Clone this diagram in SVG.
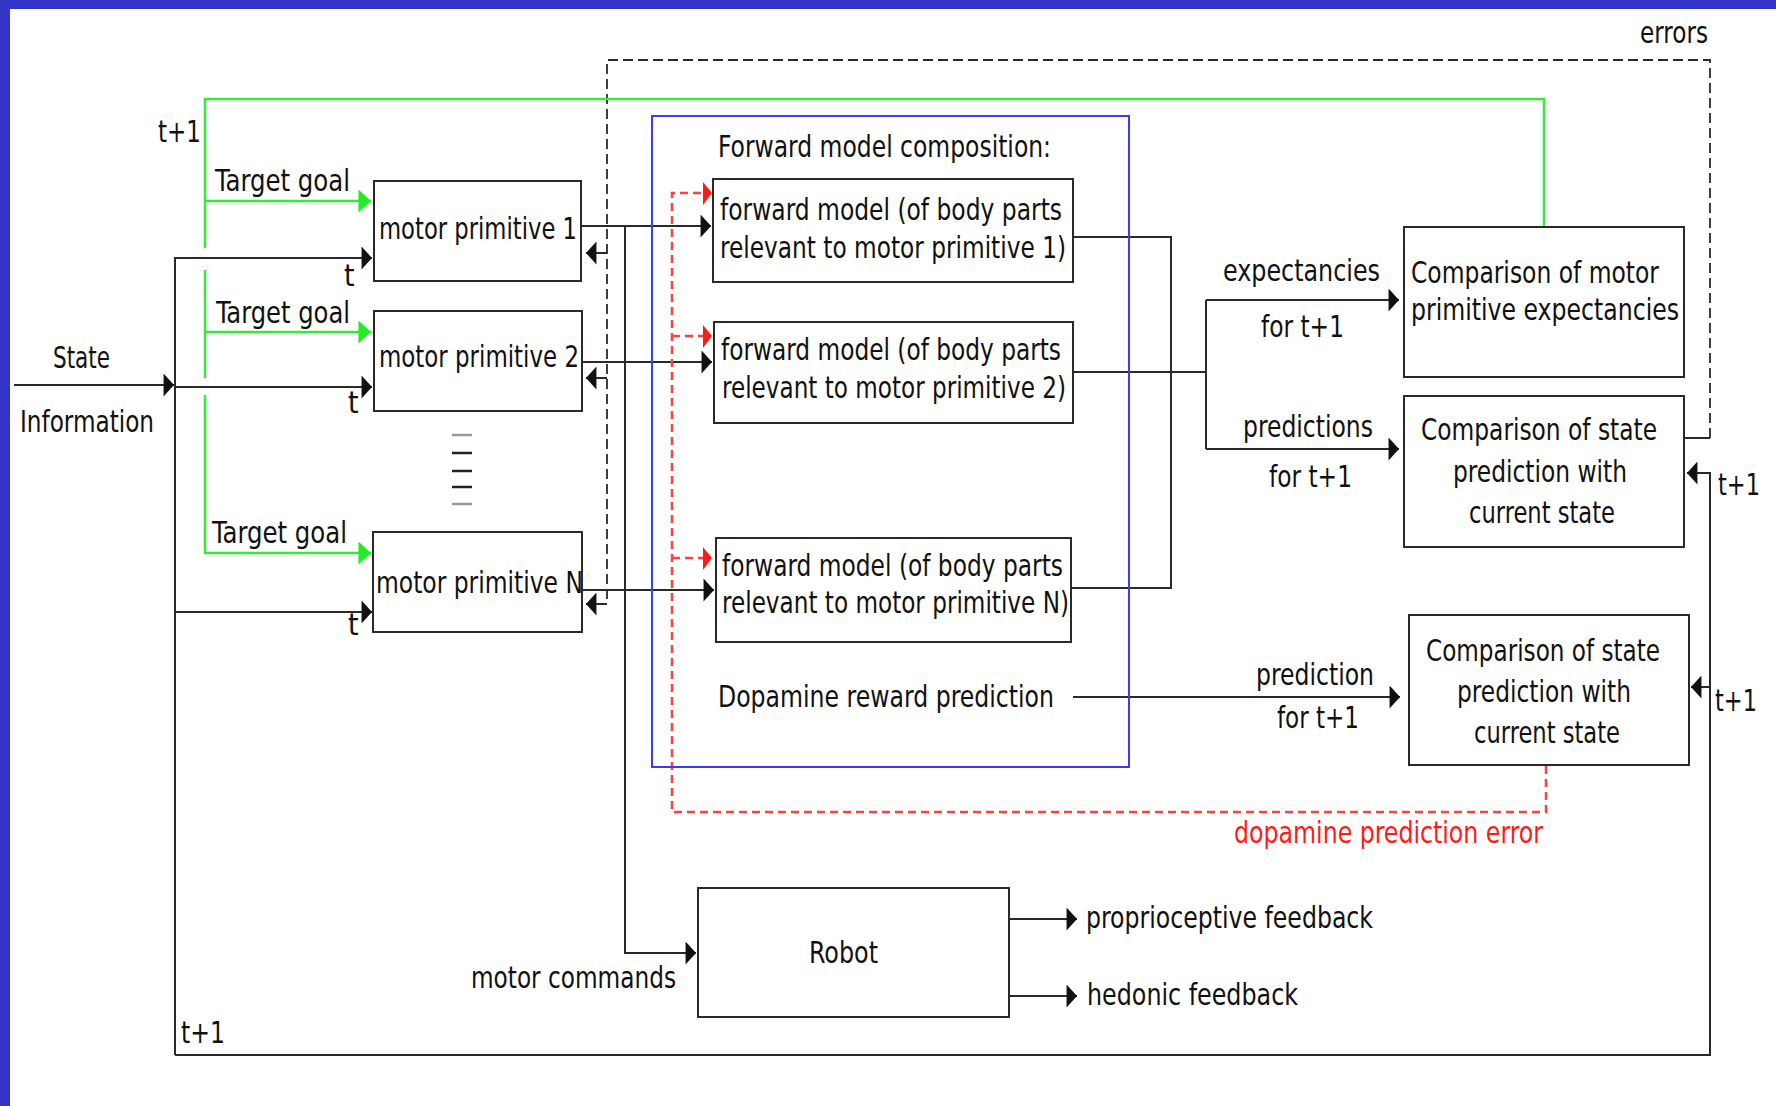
<svg xmlns="http://www.w3.org/2000/svg" width="1776" height="1106" viewBox="0 0 1776 1106">
<style>
  text { font-family: "DejaVu Sans Condensed", "DejaVu Sans", "Liberation Sans", sans-serif; font-size: 30px; fill: #111; }
  .box { fill: #fff; stroke: #2a2a2a; stroke-width: 2; }
  .ln { fill: none; stroke: #2a2a2a; stroke-width: 2; }
  .gr { fill: none; stroke: #33ec33; stroke-width: 2.5; }
  .rd { fill: none; stroke: #ff4040; stroke-width: 2.5; stroke-dasharray: 8 5; }
  .dk { fill: none; stroke: #2a2a2a; stroke-width: 1.8; stroke-dasharray: 10 5; }
  .red { fill: #ff1a1a; }
</style>
<defs>
  <marker id="ab" markerUnits="userSpaceOnUse" markerWidth="11" markerHeight="23" viewBox="0 0 10 22" refX="10" refY="11" orient="auto">
    <path d="M0,0 L10,11 L0,22 Z" fill="#111"/>
  </marker>
  <marker id="ag" markerUnits="userSpaceOnUse" markerWidth="13" markerHeight="23" viewBox="0 0 12 22" refX="12" refY="11" orient="auto">
    <path d="M0,0 L12,11 L0,22 Z" fill="#22ee22"/>
  </marker>
</defs>
<rect x="0" y="0" width="1776" height="1106" fill="#ffffff"/>
<rect x="0" y="0" width="1776" height="9" fill="#3434c8"/>
<rect x="0" y="0" width="10" height="1106" fill="#3434c8"/>

<g id="connectors">
  <!-- errors dashed feedback -->
  <path class="ln" d="M1684,438 H1710"/>
  <path class="dk" d="M1710,438 V60 H607 V604"/>
  <path class="ln" d="M607,253 H586" marker-end="url(#ab)"/>
  <path class="ln" d="M607,378 H586" marker-end="url(#ab)"/>
  <path class="ln" d="M607,604 H586" marker-end="url(#ab)"/>
  <!-- green goal lines -->
  <path class="gr" d="M205,248 V99 H1544 V227"/>
  <path class="gr" d="M205,270 V378"/>
  <path class="gr" d="M205,395 V553 H371" marker-end="url(#ag)"/>
  <path class="gr" d="M205,201 H371" marker-end="url(#ag)"/>
  <path class="gr" d="M205,332 H371" marker-end="url(#ag)"/>
  <!-- state information and t inputs -->
  <path class="ln" d="M14,385 H174" marker-end="url(#ab)"/>
  <path class="ln" d="M175,1055 V258 H372" marker-end="url(#ab)"/>
  <path class="ln" d="M175,387 H372" marker-end="url(#ab)"/>
  <path class="ln" d="M175,612 H372" marker-end="url(#ab)"/>
  <!-- outer t+1 loop -->
  <path class="ln" d="M175,1055 H1710 V473 H1687" marker-end="url(#ab)"/>
  <path class="ln" d="M1710,687 H1691" marker-end="url(#ab)"/>
  <!-- motor primitive outputs -->
  <path class="ln" d="M582,226 H711" marker-end="url(#ab)"/>
  <path class="ln" d="M583,362 H712" marker-end="url(#ab)"/>
  <path class="ln" d="M583,590 H714" marker-end="url(#ab)"/>
  <path class="ln" d="M625,226 V953 H696" marker-end="url(#ab)"/>
  <!-- forward model outputs -->
  <path class="ln" d="M1073,237 H1171 V588 H1071"/>
  <path class="ln" d="M1073,372 H1206"/>
  <path class="ln" d="M1206,300 V449"/>
  <path class="ln" d="M1206,300 H1399" marker-end="url(#ab)"/>
  <path class="ln" d="M1206,449 H1399" marker-end="url(#ab)"/>
  <path class="ln" d="M1073,697 H1400" marker-end="url(#ab)"/>
  <!-- dopamine prediction error -->
  <path class="rd" d="M1546,766 V812 H672 V193 H703"/>
  <path class="rd" d="M672,336 H703"/>
  <path class="rd" d="M672,558 H703"/>
  <path d="M703,182 L712,193 L703,205 Z" class="red"/>
  <path d="M703,325 L712,336 L703,348 Z" class="red"/>
  <path d="M703,547 L712,558 L703,570 Z" class="red"/>
  <!-- robot outputs -->
  <path class="ln" d="M1009,919 H1077" marker-end="url(#ab)"/>
  <path class="ln" d="M1009,996 H1077" marker-end="url(#ab)"/>
  <!-- vertical ellipsis -->
  <g stroke-width="2.5">
    <line x1="452" y1="435" x2="472" y2="435" stroke="#999"/>
    <line x1="452" y1="453" x2="472" y2="453" stroke="#222"/>
    <line x1="452" y1="471" x2="472" y2="471" stroke="#222"/>
    <line x1="452" y1="487" x2="472" y2="487" stroke="#222"/>
    <line x1="452" y1="504" x2="472" y2="504" stroke="#999"/>
  </g>
</g>

<g id="labels">
  <text x="1640" y="43" textLength="68" lengthAdjust="spacingAndGlyphs">errors</text>
  <text x="158" y="142" textLength="43" lengthAdjust="spacingAndGlyphs">t+1</text>
  <text x="215" y="191" textLength="135" lengthAdjust="spacingAndGlyphs">Target goal</text>
  <text x="344" y="286">t</text>
  <text x="216" y="323" textLength="134" lengthAdjust="spacingAndGlyphs">Target goal</text>
  <text x="53" y="368" textLength="57" lengthAdjust="spacingAndGlyphs">State</text>
  <text x="20" y="432" textLength="134" lengthAdjust="spacingAndGlyphs">Information</text>
  <text x="348" y="413">t</text>
  <text x="212" y="543" textLength="135" lengthAdjust="spacingAndGlyphs">Target goal</text>
  <text x="348" y="635">t</text>
  <text x="1223" y="281" textLength="157" lengthAdjust="spacingAndGlyphs">expectancies</text>
  <text x="1261" y="337" textLength="83" lengthAdjust="spacingAndGlyphs">for t+1</text>
  <text x="1243" y="437" textLength="130" lengthAdjust="spacingAndGlyphs">predictions</text>
  <text x="1269" y="487" textLength="83" lengthAdjust="spacingAndGlyphs">for t+1</text>
  <text x="1718" y="495" textLength="42" lengthAdjust="spacingAndGlyphs">t+1</text>
  <text x="1715" y="711" textLength="42" lengthAdjust="spacingAndGlyphs">t+1</text>
  <text x="1256" y="685" textLength="118" lengthAdjust="spacingAndGlyphs">prediction</text>
  <text x="1277" y="728" textLength="82" lengthAdjust="spacingAndGlyphs">for t+1</text>
  <text x="1234" y="843" textLength="309" lengthAdjust="spacingAndGlyphs" style="fill:#ff1a1a">dopamine prediction error</text>
  <text x="1086" y="928" textLength="287" lengthAdjust="spacingAndGlyphs">proprioceptive feedback</text>
  <text x="1087" y="1005" textLength="211" lengthAdjust="spacingAndGlyphs">hedonic feedback</text>
  <text x="471" y="988" textLength="205" lengthAdjust="spacingAndGlyphs">motor commands</text>
  <text x="181" y="1043" textLength="44" lengthAdjust="spacingAndGlyphs">t+1</text>
</g>

<g id="forward-model-composition">
  <rect x="652" y="116" width="477" height="651" fill="none" stroke="#3a3aff" stroke-width="2"/>
  <text x="718" y="157" textLength="333" lengthAdjust="spacingAndGlyphs">Forward model composition:</text>
</g>

<g id="motor-primitive-1">
  <rect class="box" x="374" y="181" width="207" height="100"/>
  <text x="379" y="239" textLength="198" lengthAdjust="spacingAndGlyphs">motor primitive 1</text>
</g>
<g id="motor-primitive-2">
  <rect class="box" x="374" y="311" width="208" height="100"/>
  <text x="379" y="367" textLength="200" lengthAdjust="spacingAndGlyphs">motor primitive 2</text>
</g>
<g id="motor-primitive-N">
  <rect class="box" x="373" y="532" width="209" height="100"/>
  <text x="376" y="593" textLength="207" lengthAdjust="spacingAndGlyphs">motor primitive N</text>
</g>

<g id="forward-model-1">
  <rect class="box" x="713" y="179" width="360" height="103"/>
  <text x="720" y="220" textLength="342" lengthAdjust="spacingAndGlyphs">forward model (of body parts</text>
  <text x="720" y="258" textLength="346" lengthAdjust="spacingAndGlyphs">relevant to motor primitive 1)</text>
</g>
<g id="forward-model-2">
  <rect class="box" x="714" y="322" width="359" height="101"/>
  <text x="721" y="360" textLength="340" lengthAdjust="spacingAndGlyphs">forward model (of body parts</text>
  <text x="722" y="398" textLength="344" lengthAdjust="spacingAndGlyphs">relevant to motor primitive 2)</text>
</g>
<g id="forward-model-N">
  <rect class="box" x="716" y="538" width="355" height="104"/>
  <text x="722" y="576" textLength="341" lengthAdjust="spacingAndGlyphs">forward model (of body parts</text>
  <text x="722" y="613" textLength="347" lengthAdjust="spacingAndGlyphs">relevant to motor primitive N)</text>
</g>
<g id="dopamine-reward-prediction">
  <text x="718" y="707" textLength="336" lengthAdjust="spacingAndGlyphs">Dopamine reward prediction</text>
</g>

<g id="comparison-motor">
  <rect class="box" x="1404" y="227" width="280" height="150"/>
  <text x="1411" y="283" textLength="248" lengthAdjust="spacingAndGlyphs">Comparison of motor</text>
  <text x="1411" y="320" textLength="268" lengthAdjust="spacingAndGlyphs">primitive expectancies</text>
</g>
<g id="comparison-state-1">
  <rect class="box" x="1404" y="396" width="280" height="151"/>
  <text x="1421" y="440" textLength="236" lengthAdjust="spacingAndGlyphs">Comparison of state</text>
  <text x="1453" y="482" textLength="174" lengthAdjust="spacingAndGlyphs">prediction with</text>
  <text x="1469" y="523" textLength="146" lengthAdjust="spacingAndGlyphs">current state</text>
</g>
<g id="comparison-state-2">
  <rect class="box" x="1409" y="615" width="280" height="150"/>
  <text x="1426" y="661" textLength="234" lengthAdjust="spacingAndGlyphs">Comparison of state</text>
  <text x="1457" y="702" textLength="174" lengthAdjust="spacingAndGlyphs">prediction with</text>
  <text x="1474" y="743" textLength="146" lengthAdjust="spacingAndGlyphs">current state</text>
</g>
<g id="robot">
  <rect class="box" x="698" y="888" width="311" height="129"/>
  <text x="809" y="963" textLength="69" lengthAdjust="spacingAndGlyphs">Robot</text>
</g>
</svg>
